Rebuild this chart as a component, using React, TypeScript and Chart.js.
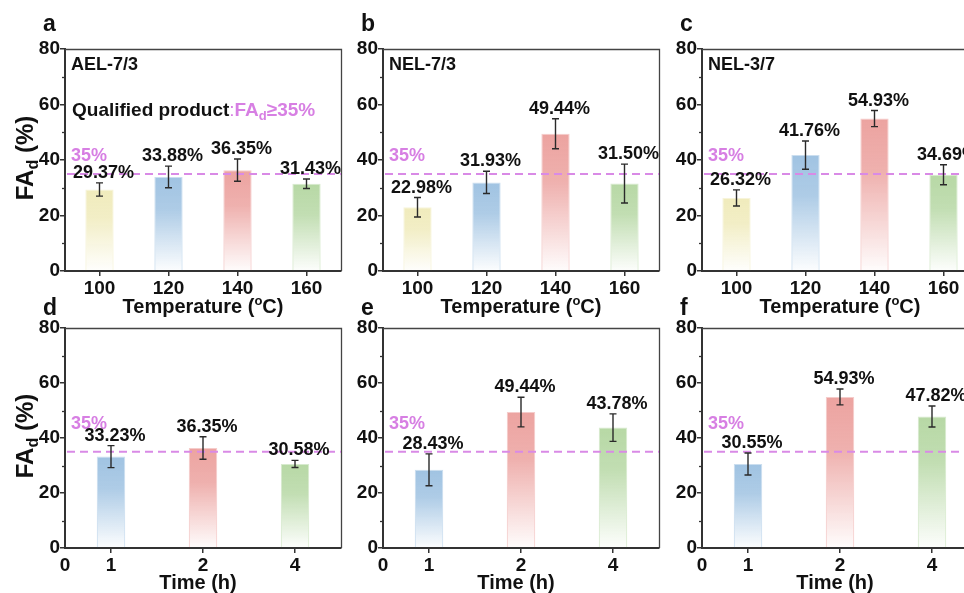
import React, { useEffect, useRef } from 'react';
import { Chart, registerables } from 'chart.js';
Chart.register(...registerables);

// ---------- data ----------
const temperatureLabels = ['100', '120', '140', '160'];
const timeLabels = ['1', '2', '4'];
const sampleNames = ['AEL-7/3', 'NEL-7/3', 'NEL-3/7'];
const panelLetters = ['a', 'b', 'c', 'd', 'e', 'f'];
const thresholdValue = 35;

const ael73TempValues = [29.37, 33.88, 36.35, 31.43];
const ael73TempErrors = [2.4, 3.9, 4.0, 1.7];
const nel73TempValues = [22.98, 31.93, 49.44, 31.5];
const nel73TempErrors = [3.5, 4.0, 5.4, 7.0];
const nel37TempValues = [26.32, 41.76, 54.93, 34.69];
const nel37TempErrors = [2.9, 5.1, 2.9, 3.6];

const ael73TimeValues = [33.23, 36.35, 30.58];
const ael73TimeErrors = [4.0, 4.1, 1.3];
const nel73TimeValues = [28.43, 49.44, 43.78];
const nel73TimeErrors = [5.8, 5.4, 5.0];
const nel37TimeValues = [30.55, 54.93, 47.82];
const nel37TimeErrors = [4.0, 2.9, 3.8];

// ---------- styles ----------
const FONT = "'Liberation Sans', Arial, Helvetica, sans-serif";
const VIOLET = '#d77fe3';
const VIOLET_LINE = '#d98ae6';
const INK = '#111111';
const AXIS = '#333333';

const YELLOW = [240, 235, 188];
const BLUE = [160, 195, 226];
const RED = [236, 163, 160];
const GREEN = [183, 216, 165];
const tempColors = [YELLOW, BLUE, RED, GREEN];
const timeColors = [BLUE, RED, GREEN];

type PanelCfg = {
  left: number; top: number; width: number; height: number;
  axisH: number; labels: string[]; values: number[]; errors: number[];
  colors: number[][]; letter: string; name: string; yTitle: boolean;
  xTitle: 'temp' | 'time'; zeroLabel: boolean; barPct: number;
  qualified: boolean; pctLift: number; letterLift: number;
};

const PLOT_W = 276;
const Y_AXIS_W = 65;
const PAD_TOP = 49;
const colLefts = [65, 383, 702];

const tempSets = [
  [ael73TempValues, ael73TempErrors],
  [nel73TempValues, nel73TempErrors],
  [nel37TempValues, nel37TempErrors],
];
const timeSets = [
  [ael73TimeValues, ael73TimeErrors],
  [nel73TimeValues, nel73TimeErrors],
  [nel37TimeValues, nel37TimeErrors],
];

const panels: PanelCfg[] = [];
for (let i = 0; i < 3; i++) {
  panels.push({
    left: colLefts[i] - Y_AXIS_W, top: 0, width: Y_AXIS_W + PLOT_W + 8, height: 321,
    axisH: 50, labels: temperatureLabels, values: tempSets[i][0], errors: tempSets[i][1],
    colors: tempColors, letter: panelLetters[i], name: sampleNames[i], yTitle: i === 0,
    xTitle: 'temp', zeroLabel: false, barPct: 0.41, qualified: i === 0, pctLift: 13, letterLift: 18,
  });
}
for (let i = 0; i < 3; i++) {
  panels.push({
    left: colLefts[i] - Y_AXIS_W, top: 279, width: Y_AXIS_W + PLOT_W + 8, height: 314,
    axisH: 45, labels: timeLabels, values: timeSets[i][0], errors: timeSets[i][1],
    colors: timeColors, letter: panelLetters[i + 3], name: '', yTitle: i === 0,
    xTitle: 'time', zeroLabel: true, barPct: 0.31, qualified: false, pctLift: 23, letterLift: 13,
  });
}

const rgba = (c: number[], a: number) => `rgba(${c[0]},${c[1]},${c[2]},${a})`;

function Panel({ cfg }: { cfg: PanelCfg }) {
  const ref = useRef<HTMLCanvasElement | null>(null);
  useEffect(() => {
    const canvas = ref.current;
    if (!canvas) return;
    const tickFont = { family: FONT, size: 19, weight: 'bold' as const };

    const overlay = {
      id: 'overlay',
      afterDatasetsDraw(chart: any) {
        const ctx = chart.ctx as CanvasRenderingContext2D;
        const { left, right, top, bottom } = chart.chartArea;
        const ys = chart.scales.y;
        ctx.save();
        // frame (top + right)
        ctx.strokeStyle = '#444';
        ctx.lineWidth = 1.3;
        ctx.beginPath();
        ctx.moveTo(left, top + 0.5);
        ctx.lineTo(right + 0.5, top + 0.5);
        ctx.lineTo(right + 0.5, bottom);
        ctx.stroke();
        // minor ticks
        ctx.strokeStyle = AXIS;
        ctx.lineWidth = 1.3;
        [10, 30, 50, 70].forEach((v) => {
          const y = Math.round(ys.getPixelForValue(v)) + 0.5;
          ctx.beginPath();
          ctx.moveTo(left - 3, y);
          ctx.lineTo(left, y);
          ctx.stroke();
        });
        // threshold dashed line
        const ty = ys.getPixelForValue(thresholdValue);
        ctx.strokeStyle = VIOLET_LINE;
        ctx.lineWidth = 2;
        ctx.setLineDash([8, 5]);
        ctx.beginPath();
        ctx.moveTo(left + 2, ty);
        ctx.lineTo(right, ty);
        ctx.stroke();
        ctx.setLineDash([]);
        ctx.font = `bold 18px ${FONT}`;
        ctx.fillStyle = VIOLET;
        ctx.textAlign = 'left';
        ctx.textBaseline = 'alphabetic';
        ctx.fillText(`${thresholdValue}%`, left + 6, ty - cfg.pctLift);

        // error bars + value labels
        const meta = chart.getDatasetMeta(0);
        meta.data.forEach((el: any, i: number) => {
          const v = cfg.values[i];
          const e = cfg.errors[i];
          const yT = ys.getPixelForValue(v + e);
          const yB = ys.getPixelForValue(v - e);
          ctx.strokeStyle = '#2a2a2a';
          ctx.lineWidth = 1.4;
          ctx.beginPath();
          ctx.moveTo(el.x, yT);
          ctx.lineTo(el.x, yB);
          ctx.moveTo(el.x - 3.5, yT);
          ctx.lineTo(el.x + 3.5, yT);
          ctx.moveTo(el.x - 3.5, yB);
          ctx.lineTo(el.x + 3.5, yB);
          ctx.stroke();
          ctx.font = `bold 18px ${FONT}`;
          ctx.fillStyle = INK;
          ctx.textAlign = 'center';
          ctx.fillText(`${v.toFixed(2)}%`, el.x + 4, yT - 5);
        });

        // sample name
        if (cfg.name) {
          ctx.font = `bold 18px ${FONT}`;
          ctx.fillStyle = INK;
          ctx.textAlign = 'left';
          ctx.fillText(cfg.name, left + 6, top + 21);
        }
        // qualified product note
        if (cfg.qualified) {
          let x = left + 7;
          const y = top + 67;
          ctx.textAlign = 'left';
          ctx.font = `bold 19px ${FONT}`;
          ctx.fillStyle = INK;
          const t1 = 'Qualified product';
          ctx.fillText(t1, x, y);
          x += ctx.measureText(t1).width;
          ctx.font = `19px ${FONT}`;
          ctx.fillStyle = VIOLET;
          ctx.fillText(':', x, y);
          x += ctx.measureText(':').width;
          ctx.font = `bold 19px ${FONT}`;
          ctx.fillText('FA', x, y);
          x += ctx.measureText('FA').width;
          ctx.font = `bold 13px ${FONT}`;
          ctx.fillText('d', x, y + 4);
          x += ctx.measureText('d').width;
          ctx.font = `bold 19px ${FONT}`;
          ctx.fillText(`≥${thresholdValue}%`, x, y);
        }
        // panel letter
        ctx.font = `bold 23px ${FONT}`;
        ctx.fillStyle = INK;
        ctx.textAlign = 'left';
        ctx.fillText(cfg.letter, left - 22, top - cfg.letterLift);

        // "0" at origin for time axis
        if (cfg.zeroLabel) {
          ctx.font = `bold 19px ${FONT}`;
          ctx.textAlign = 'center';
          ctx.textBaseline = 'middle';
          ctx.fillText('0', left, bottom + 5 + 1 + 19 * 1.2 / 2);
          ctx.textBaseline = 'alphabetic';
        }

        // x title
        const cx = (left + right) / 2;
        ctx.fillStyle = INK;
        if (cfg.xTitle === 'temp') {
          const big = `bold 20px ${FONT}`;
          const small = `bold 13px ${FONT}`;
          ctx.font = big;
          const a = 'Temperature (';
          const c = 'C)';
          const wa = ctx.measureText(a).width;
          const wc = ctx.measureText(c).width;
          ctx.font = small;
          const wo = ctx.measureText('o').width;
          let x = cx - (wa + wo + wc) / 2;
          const y = bottom + 42;
          ctx.textAlign = 'left';
          ctx.font = big;
          ctx.fillText(a, x, y);
          x += wa;
          ctx.font = small;
          ctx.fillText('o', x, y - 8);
          x += wo;
          ctx.font = big;
          ctx.fillText(c, x, y);
        } else {
          ctx.font = `bold 20px ${FONT}`;
          ctx.textAlign = 'center';
          ctx.fillText('Time (h)', cx - 5, bottom + 41);
        }

        // y title
        if (cfg.yTitle) {
          ctx.save();
          ctx.translate(left - 32, (top + bottom) / 2 - 2);
          ctx.rotate(-Math.PI / 2);
          const big = `bold 24px ${FONT}`;
          const small = `bold 16px ${FONT}`;
          ctx.font = big;
          const w1 = ctx.measureText('FA').width;
          const w3 = ctx.measureText(' (%)').width;
          ctx.font = small;
          const w2 = ctx.measureText('d').width;
          let x = -(w1 + w2 + w3) / 2;
          ctx.textAlign = 'left';
          ctx.font = big;
          ctx.fillText('FA', x, 0);
          x += w1;
          ctx.font = small;
          ctx.fillText('d', x, 5);
          x += w2;
          ctx.font = big;
          ctx.fillText(' (%)', x, 0);
          ctx.restore();
        }
        ctx.restore();
      },
    };

    const chart = new Chart(canvas, {
      type: 'bar',
      data: {
        labels: cfg.labels,
        datasets: [
          {
            data: cfg.values,
            backgroundColor: (c: any) => {
              const col = cfg.colors[c.dataIndex % cfg.colors.length];
              const chart = c.chart;
              const area = chart.chartArea;
              if (!area || c.type !== 'data' || !chart.scales.y) return rgba(col, 1);
              const yTop = chart.scales.y.getPixelForValue(c.raw);
              const g = chart.ctx.createLinearGradient(0, yTop, 0, area.bottom);
              g.addColorStop(0, rgba(col, 1));
              g.addColorStop(0.35, rgba(col, 0.85));
              g.addColorStop(1, rgba(col, 0.03));
              return g;
            },
            borderColor: cfg.values.map((_, i) => rgba(cfg.colors[i % cfg.colors.length], 0.55)),
            borderWidth: 1,
            barPercentage: cfg.barPct,
            categoryPercentage: 1,
          },
        ],
      },
      options: {
        responsive: false,
        animation: false,
        events: [],
        layout: { padding: { top: PAD_TOP, left: 0, right: 8, bottom: 0 } },
        plugins: { legend: { display: false }, tooltip: { enabled: false } },
        scales: {
          x: {
            type: 'category',
            offset: true,
            grid: { display: true, drawOnChartArea: false, drawTicks: true, tickLength: 5, offset: false, color: AXIS, lineWidth: 1.5 },
            border: { display: true, color: AXIS, width: 2 },
            ticks: { color: INK, font: tickFont, padding: 1, maxRotation: 0, autoSkip: false },
            afterFit: (s: any) => { s.height = cfg.axisH; },
          },
          y: {
            min: 0,
            max: 80,
            ticks: { stepSize: 20, color: INK, font: tickFont, padding: 0 },
            grid: { display: true, drawOnChartArea: false, drawTicks: true, tickLength: 5, color: AXIS, lineWidth: 1.5 },
            border: { display: true, color: AXIS, width: 2 },
            afterFit: (s: any) => { s.width = Y_AXIS_W; },
          },
        },
      },
      plugins: [overlay],
    } as any);
    return () => chart.destroy();
  }, [cfg]);
  return (
    <canvas
      ref={ref}
      width={cfg.width}
      height={cfg.height}
      style={{ position: 'absolute', left: cfg.left, top: cfg.top, width: cfg.width, height: cfg.height }}
    />
  );
}

export default function App() {
  return (
    <div style={{ position: 'absolute', left: 0, top: 0, width: 964, height: 593, overflow: 'hidden', background: '#fff' }}>
      {panels.map((p, i) => (
        <Panel key={i} cfg={p} />
      ))}
    </div>
  );
}
